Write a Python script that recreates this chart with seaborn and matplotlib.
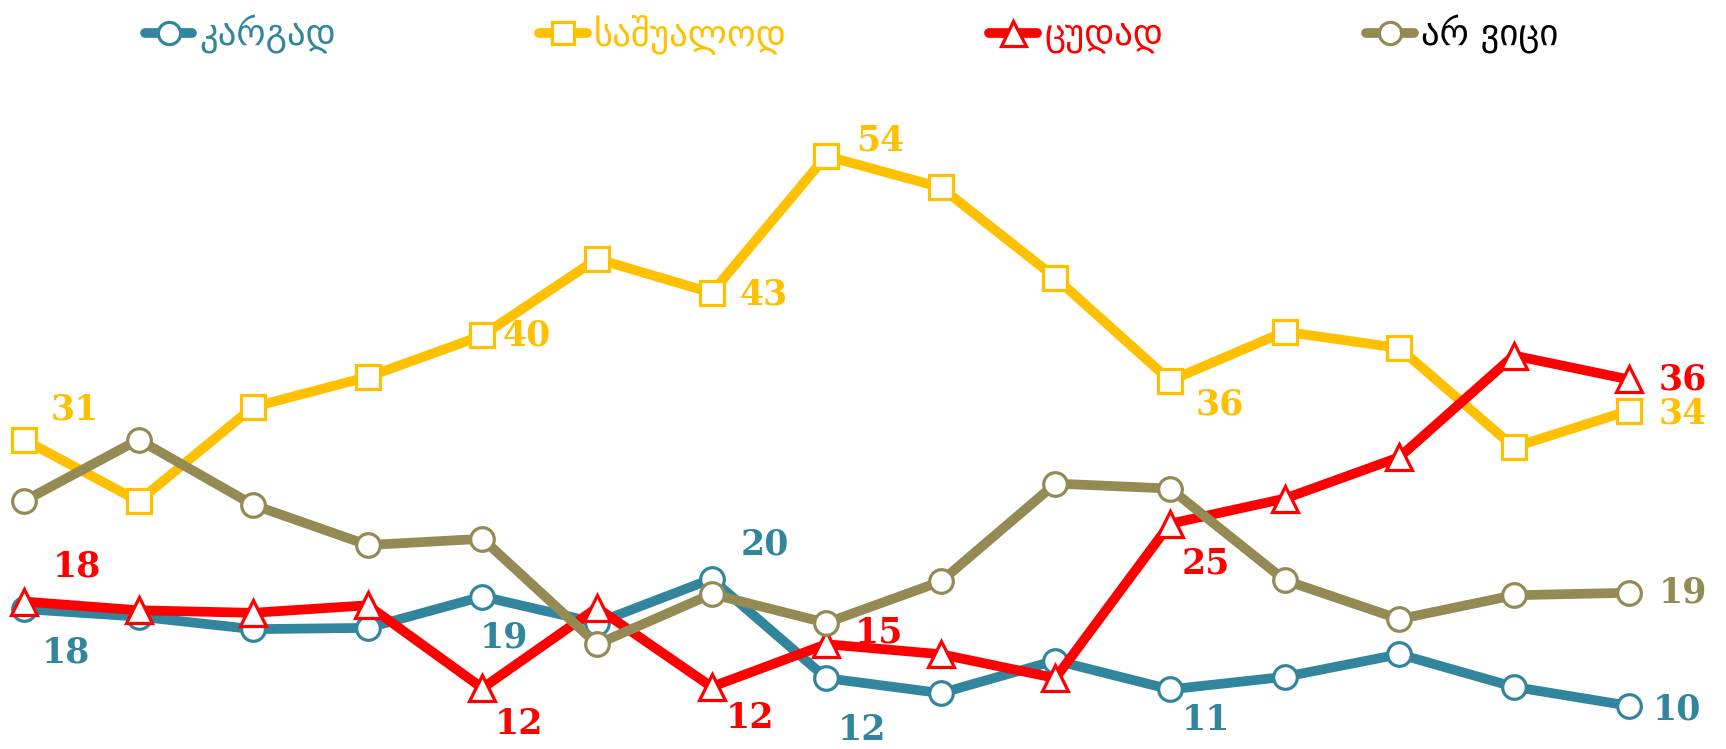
import numpy as np
import pandas as pd
import seaborn as sns
import matplotlib.pyplot as plt
from matplotlib.lines import Line2D

sns.set_style("white")

# survey waves (15 points, no visible axis labels)
waves = list(range(15))

names = ["კარგად", "საშუალოდ", "ცუდად", "არ ვიცი"]
good = [17.9, 17.3, 16.3, 16.4, 18.9, 16.8, 20.3, 12.4, 11.2, 13.8, 11.5, 12.5, 14.3, 11.7, 10.2]
average = [31.4, 26.5, 34.0, 36.4, 39.7, 45.8, 43.1, 54.0, 51.5, 44.3, 36.1, 40.0, 38.7, 30.8, 33.7]
bad = [18.5, 17.8, 17.6, 18.2, 11.6, 18.0, 11.7, 15.1, 14.3, 12.4, 24.7, 26.7, 30.0, 38.1, 36.2]
dont_know = [26.5, 31.4, 26.2, 23.0, 23.5, 15.1, 19.1, 16.8, 20.1, 27.9, 27.5, 20.2, 17.1, 19.0, 19.2]

# which points carry a value label
good_lbl = {0: 18, 4: 19, 6: 20, 7: 12, 10: 11, 14: 10}
average_lbl = {0: 31, 4: 40, 6: 43, 7: 54, 10: 36, 14: 34}
bad_lbl = {0: 18, 4: 12, 6: 12, 7: 15, 10: 25, 14: 36}
dont_know_lbl = {14: 19}

colors = ["#31859C", "#FFC000", "#FF0000", "#948A54"]
markers = ["o", "s", "^", "o"]
msizes = [17, 17, 19, 17]

df = pd.DataFrame({
    "wave": waves * 4,
    "value": good + average + bad + dont_know,
    "series": sum([[n] * len(waves) for n in names], []),
})

fig = plt.figure(figsize=(17.26, 7.49), dpi=100)
ax = fig.add_axes([0, 0, 1, 1])

draw_order = [0, 3, 1, 2]
for i in draw_order:
    sub = df[df["series"] == names[i]]
    sns.lineplot(data=sub, x="wave", y="value", ax=ax, color=colors[i], lw=7,
                 marker=markers[i], markersize=msizes[i], markerfacecolor="white",
                 markeredgecolor=colors[i], markeredgewidth=2.3, zorder=3 + i)

# label offsets in pixels (dx, dy)
def put_labels(values, labels, color, offsets):
    for k, txt in labels.items():
        dx, dy = offsets.get(k, (52, 0))
        ax.annotate(str(txt), (waves[k], values[k]), xytext=(dx, dy),
                    textcoords="offset pixels", ha="center", va="center",
                    color=color, fontsize=25, fontweight="bold",
                    family="DejaVu Serif", zorder=10)

put_labels(average, average_lbl, colors[1],
           {0: (51, 30), 4: (44, 0), 6: (52, -2), 7: (54, 15), 10: (50, -24), 14: (54, -3)})
put_labels(bad, bad_lbl, colors[2],
           {0: (53, 35), 4: (37, -36), 6: (38, -31), 7: (53, 12), 10: (36, -40), 14: (54, 0)})
put_labels(good, good_lbl, colors[0],
           {0: (42, -43), 4: (22, -41), 6: (53, 34), 7: (36, -52), 10: (36, -31), 14: (48, -4)})
put_labels(dont_know, dont_know_lbl, colors[3], {14: (54, 0)})

ax.set_xlim(-0.209, 14.85)
ax.set_ylim(6.75, 66.43)
ax.set_axis_off()

handles = [Line2D([0], [0], color=c, lw=7, marker=m, markersize=s - 1,
                  markerfacecolor="white", markeredgecolor=c, markeredgewidth=2.3)
           for c, m, s in zip(colors, markers, msizes)]
leg = ax.legend(handles, names, loc="upper left", bbox_to_anchor=(0.071, 1.01),
                ncol=4, frameon=False, handlelength=1.3,
                handletextpad=0.2, columnspacing=5.5, borderaxespad=0.2,
                prop={"family": "DejaVu Sans", "size": 26.5})
for t, c in zip(leg.get_texts(), colors[:3] + ["black"]):
    t.set_color(c)

fig.savefig("out.png", dpi=100, facecolor="white")
